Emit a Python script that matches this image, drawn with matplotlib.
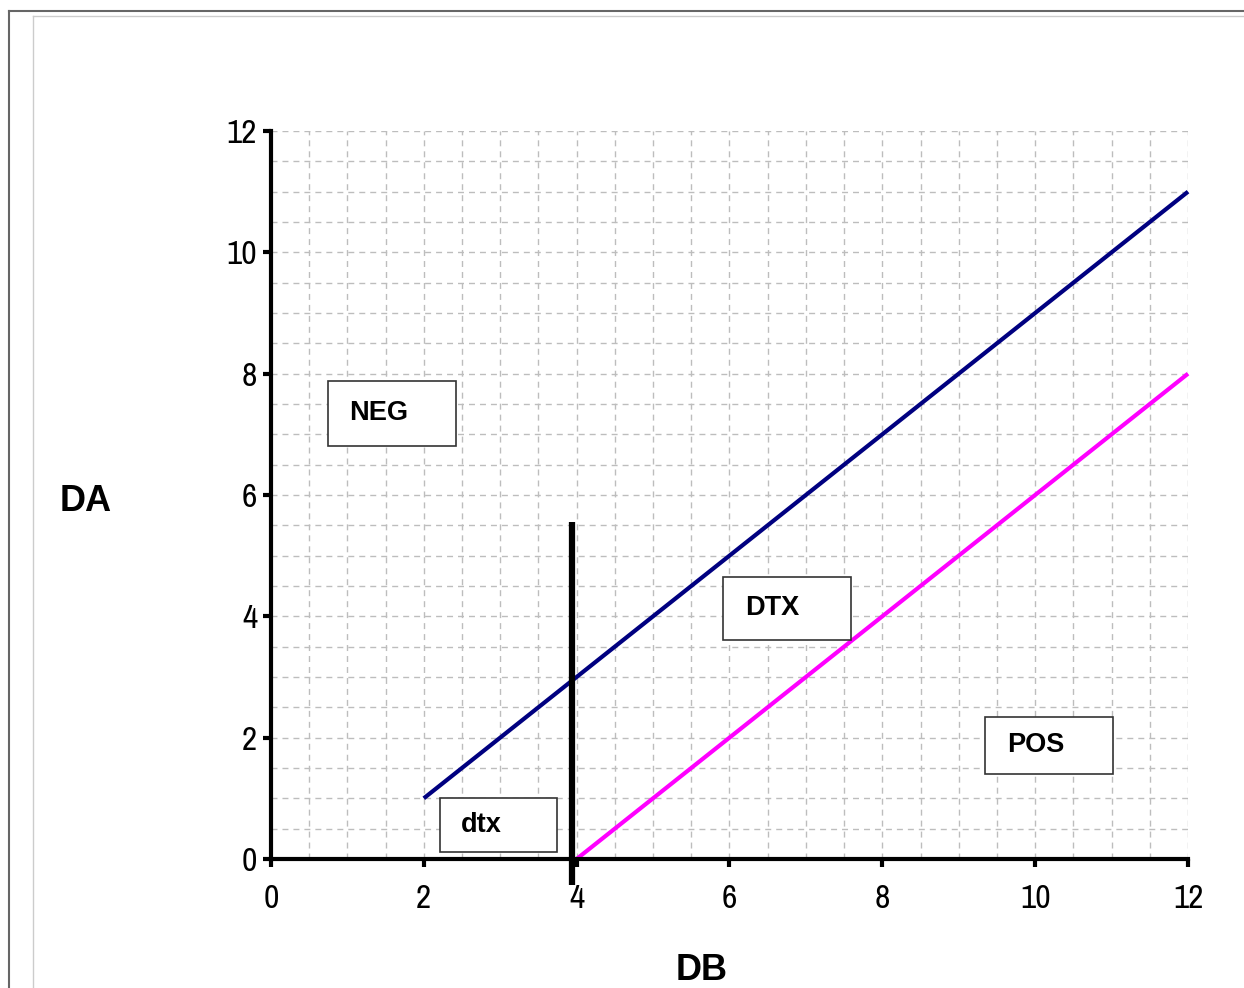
import matplotlib.pyplot as plt
from matplotlib.patches import Rectangle
from matplotlib.lines import Line2D

# line data
upper_x = [2, 12]
upper_y = [1, 11]
lower_x = [4, 12]
lower_y = [0, 8]
cut_x = [3.94, 3.94]
cut_y = [-0.43, 5.55]

# region labels and their boxes (x0, y0, x1, y1) in data units
labels = ['NEG', 'DTX', 'POS', 'dtx']
boxes = [(0.745, 6.81, 2.42, 7.88),
         (5.92, 3.61, 7.59, 4.65),
         (9.35, 1.40, 11.02, 2.34),
         (2.21, 0.115, 3.74, 1.0)]

ticks = [0, 2, 4, 6, 8, 10, 12]

narrow = ['Archivo Narrow', 'DejaVu Sans']
bold = ['Liberation Sans', 'DejaVu Sans']

fig = plt.figure(figsize=(12.44, 9.88), dpi=100)
ax = fig.add_axes([0.2178, 0.1306, 0.7372, 0.7368])

# frame lines around the figure
fig.add_artist(Line2D([9/1244, 9/1244], [0, 1 - 11/988], color='#666666', lw=1.5))
fig.add_artist(Line2D([9/1244, 1], [1 - 11/988, 1 - 11/988], color='#666666', lw=1.5))
fig.add_artist(Line2D([33/1244, 33/1244], [0, 1 - 16/988], color='#cccccc', lw=1))
fig.add_artist(Line2D([33/1244, 1], [1 - 16/988, 1 - 16/988], color='#cccccc', lw=1))

ax.set_xlim(0, 12)
ax.set_ylim(0, 12)
ax.set_xticks(ticks)
ax.set_yticks(ticks)
ax.set_xticks([i * 0.5 for i in range(25)], minor=True)
ax.set_yticks([i * 0.5 for i in range(25)], minor=True)
ax.grid(which='both', color='#bdbdbd', linestyle=(0, (4.3, 3.6)), lw=1)
ax.tick_params(which='minor', length=0)
ax.tick_params(which='major', direction='out', length=6, width=3, labelsize=24)
ax.tick_params(axis='x', pad=12)
ax.tick_params(axis='y', pad=4)
for lab in ax.get_xticklabels() + ax.get_yticklabels():
    lab.set_family(narrow)
ax.set_axisbelow(True)

for s in ['top', 'right']:
    ax.spines[s].set_visible(False)
for s in ['left', 'bottom']:
    ax.spines[s].set_linewidth(3)

ax.plot(upper_x, upper_y, color='#000080', lw=3, clip_on=False, solid_capstyle='butt')
ax.plot(lower_x, lower_y, color='#ff00ff', lw=3, clip_on=False, solid_capstyle='butt')
ax.plot(cut_x, cut_y, color='black', lw=4.5, clip_on=False, solid_capstyle='butt', zorder=5)

for lab, (x0, y0, x1, y1) in zip(labels, boxes):
    ax.add_patch(Rectangle((x0, y0), x1 - x0, y1 - y0, facecolor='white',
                           edgecolor='#333333', lw=1.2, zorder=4))
    ax.text(x0 + 0.28, (y0 + y1) / 2 + 0.01, lab, fontsize=19.5, fontweight='bold',
            family=bold, ha='left', va='center', zorder=6)

fig.text(86/1244, 1 - 501/988, 'DA', fontsize=26, fontweight='bold', family=bold,
         ha='center', va='center')
fig.text(702/1244, 1 - 970/988, 'DB', fontsize=26, fontweight='bold', family=bold,
         ha='center', va='center')

fig.savefig('out.png', dpi=100)
